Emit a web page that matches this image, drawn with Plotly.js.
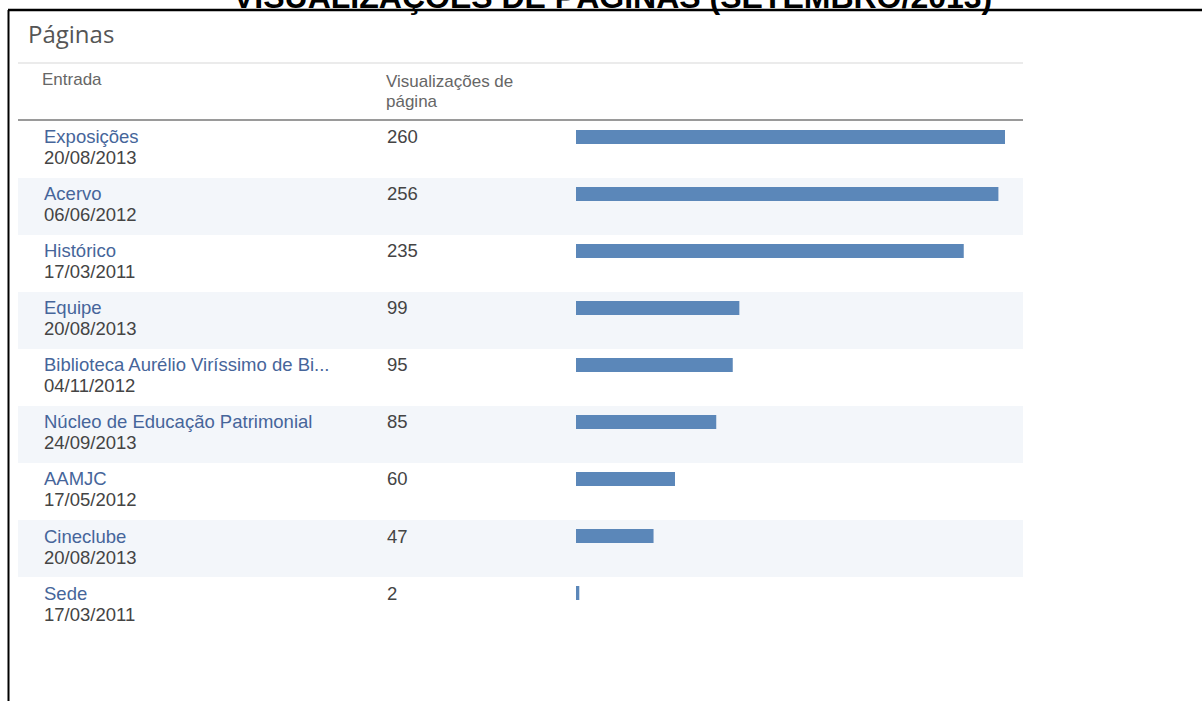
<!DOCTYPE html>
<html><head><meta charset="utf-8">
<script src="https://cdn.plot.ly/plotly-3.0.1.min.js"></script>
<style>html,body{margin:0;padding:0;background:#fff;overflow:hidden}#chart{width:1202px;height:701px}</style>
</head><body><div id="chart"></div>
<script>
// ---- data ----
const pages = ["Exposições","Acervo","Histórico","Equipe","Biblioteca Aurélio Viríssimo de Bi...","Núcleo de Educação Patrimonial","AAMJC","Cineclube","Sede"];
const dates = ["20/08/2013","06/06/2012","17/03/2011","20/08/2013","04/11/2012","24/09/2013","17/05/2012","20/08/2013","17/03/2011"];
const views = [260,256,235,99,95,85,60,47,2];
const chartTitle = "VISUALIZAÇÕES DE PÁGINAS (SETEMBRO/2013)";
const panelTitle = "Páginas";
const colEntry = "Entrada";
const colViews = ["Visualizações de","página"];

// ---- layout helpers ----
const W = 1202, H = 701;
const px = x => x / W;
const py = y => 1 - y / H;
const rowH = 57, firstBarY = 137, n = pages.length;
const rowsTop = firstBarY - rowH/2, rowsBottom = rowsTop + n*rowH;
const font = "Liberation Sans, Arial, sans-serif";

const shapes = [];
// shaded alternate rows
for (let i = 1; i < n; i += 2) {
  const rt = firstBarY - 16 + i*rowH;
  shapes.push({type:'rect', xref:'paper', yref:'paper', x0:px(18), x1:px(1023), y0:py(rt+rowH), y1:py(rt),
    fillcolor:'#f3f6fa', line:{width:0}, layer:'below'});
}
// header lines
shapes.push({type:'line', xref:'paper', yref:'paper', x0:px(18), x1:px(1023), y0:py(63), y1:py(63), line:{color:'#e4e4e4', width:1.5}});
shapes.push({type:'line', xref:'paper', yref:'paper', x0:px(18), x1:px(1023), y0:py(120), y1:py(120), line:{color:'#9a9a9a', width:2}});
// black frame
shapes.push({type:'line', xref:'paper', yref:'paper', x0:px(8), x1:px(1202), y0:py(10), y1:py(10), line:{color:'#000', width:2.5}});
shapes.push({type:'line', xref:'paper', yref:'paper', x0:px(8.5), x1:px(8.5), y0:py(10), y1:py(701), line:{color:'#000', width:2}});

const ann = [];
ann.push({text:chartTitle, xref:'paper', yref:'paper', x:px(612), y:py(-3), xanchor:'center', yanchor:'middle', showarrow:false,
  font:{family:font, size:32, color:'#000', weight:700}});
ann.push({text:panelTitle, xref:'paper', yref:'paper', x:px(26), y:py(34), xanchor:'left', yanchor:'middle', showarrow:false,
  font:{family:"Open Sans, sans-serif", size:24, color:'#555'}});
ann.push({text:colEntry, xref:'paper', yref:'paper', x:px(40), y:py(80), xanchor:'left', yanchor:'middle', showarrow:false,
  font:{family:font, size:17, color:'#666'}});
colViews.forEach((t,k) => ann.push({text:t, xref:'paper', yref:'paper', x:px(384), y:py(81 + 20*k), xanchor:'left', yanchor:'middle', showarrow:false,
  font:{family:font, size:17, color:'#666'}}));
pages.forEach((p,i) => {
  ann.push({text:p, xref:'paper', yref:'y', x:px(42), y:p, xanchor:'left', yanchor:'middle', showarrow:false,
    font:{family:font, size:18.5, color:'#46659a'}});
  ann.push({text:dates[i], xref:'paper', yref:'y', x:px(42), y:p, yshift:-21, xanchor:'left', yanchor:'middle', showarrow:false,
    font:{family:font, size:18.5, color:'#444'}});
  ann.push({text:String(views[i]), xref:'paper', yref:'y', x:px(385), y:p, xanchor:'left', yanchor:'middle', showarrow:false,
    font:{family:font, size:18.5, color:'#444'}});
});

const trace = {type:'bar', orientation:'h', x:views, y:pages, width:14/rowH,
  marker:{color:'#5b87b9', line:{width:0}}, hoverinfo:'none'};

const layout = {
  width:W, height:H, margin:{l:0,r:0,t:0,b:0}, paper_bgcolor:'#fff', plot_bgcolor:'rgba(0,0,0,0)',
  showlegend:false,
  xaxis:{domain:[px(576), px(1005)], range:[0, Math.max(...views)], visible:false, fixedrange:true},
  yaxis:{domain:[py(rowsBottom), py(rowsTop)], type:'category', range:[n-0.5, -0.5], visible:false, fixedrange:true},
  shapes:shapes, annotations:ann
};
Plotly.newPlot('chart', [trace], layout, {staticPlot:true, displayModeBar:false});
</script></body></html>
